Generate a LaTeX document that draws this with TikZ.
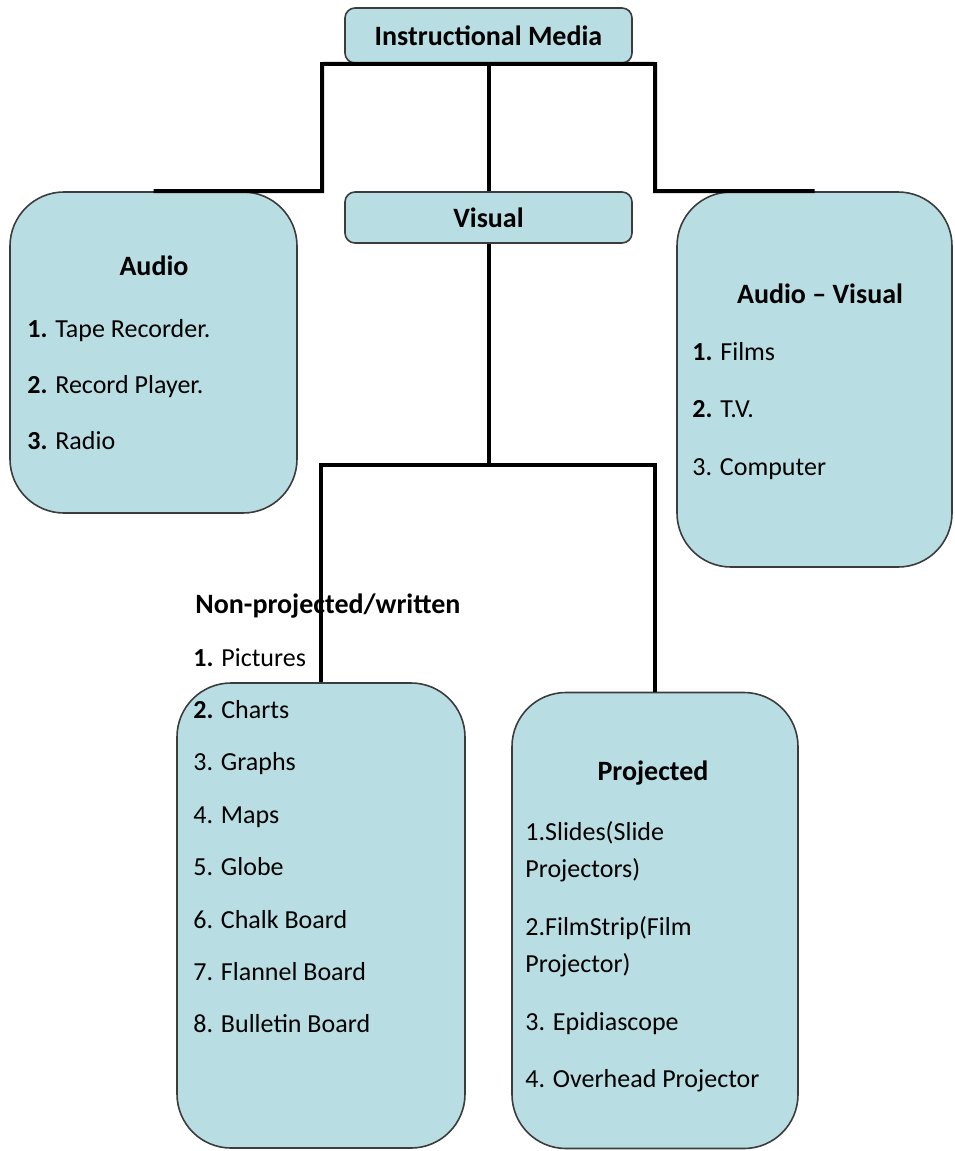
\documentclass[tikz,border=0pt]{standalone}
\usepackage{fontspec}
\setmainfont{Carlito}
\usetikzlibrary{positioning}
\definecolor{boxblue}{RGB}{184,222,227}
\definecolor{boxline}{RGB}{60,60,60}

\begin{document}
\begin{tikzpicture}[x=0.5pt,y=-0.5pt,
  box/.style={draw=boxline,fill=boxblue,line width=0.8pt,rounded corners=5pt,
    minimum width=143.5pt,inner sep=0pt,font=\fontsize{14}{16}\selectfont\bfseries},
  bigbox/.style={draw=boxline,fill=boxblue,line width=0.8pt,rounded corners=27pt,inner sep=0pt},
  link/.style={line width=2pt},
  title/.style={font=\fontsize{14}{16}\selectfont\bfseries,anchor=base,inner sep=0pt},
  item/.style={font=\fontsize{13}{15}\selectfont,anchor=base west,inner sep=0pt}]
\useasboundingbox (0,0) rectangle (954,1151);

% top boxes
\node[box,minimum height=27.5pt] (media) at (488.5,35.5) {Instructional Media};
\node[box,minimum height=25.5pt] (visual) at (488.5,217.5) {Visual};

% big rounded boxes
\node[bigbox,minimum width=143.5pt,minimum height=160.5pt] (audio) at (153.5,352.5) {};
\node[bigbox,minimum width=137.5pt,minimum height=187.5pt] (audvis) at (814.5,379.5) {};
\node[bigbox,minimum width=144pt,minimum height=232.5pt] (nonproj) at (321,915.5) {};
\node[bigbox,minimum width=143pt,minimum height=228pt] (proj) at (655,920.5) {};

% audio
\node[title] (audiot) at (154,275) {Audio};
\foreach \lab [count=\i] in {{\textbf{1.} Tape Recorder.},{\textbf{2.} Record Player.},{\textbf{3.} Radio}}
  \node[item] (audio\i) at (27,{337+56*(\i-1)}) {\lab};

% audio - visual
\node[title] (audvist) at (820,303) {Audio -- Visual};
\foreach \lab [count=\i] in {{\textbf{1.} Films},{\textbf{2.} T.V.},{3. Computer}}
  \node[item] (audvis\i) at (692,{360+57.5*(\i-1)}) {\lab};

% non-projected / written
\node[title,anchor=base west] (nonprojt) at (195,613) {Non-projected/written};
\foreach \lab [count=\i] in {{\textbf{1.} Pictures},{\textbf{2.} Charts},{3. Graphs},{4. Maps},
    {5. Globe},{6. Chalk Board},{7. Flannel Board},{8. Bulletin Board}}
  \node[item] (nonproj\i) at (193,{666+52.4*(\i-1)}) {\lab};

% projected
\node[title] (projt) at (653,780) {Projected};
\foreach \y/\lab [count=\i] in {840/{1.Slides(Slide},877/{Projectors)},935/{2.FilmStrip(Film},
    972/{Projector)},1030/{3. Epidiascope},1087/{4. Overhead Projector}}
  \node[item] (proj\i) at (525,\y) {\lab};

% connectors
\coordinate (jl) at (322,64);
\coordinate (jr) at (655,64);
\coordinate (jv) at (488.5,465);
\draw[link] (media.south) -- (jl) |- (audio.north);
\draw[link] (media.south) -- (jr) |- (audvis.north);
\draw[link] (media.south) -- (visual.north);
\draw[link] (visual.south) -- (jv) -| (nonproj.north);
\draw[link] (jv) -| (proj.north);
\end{tikzpicture}
\end{document}
